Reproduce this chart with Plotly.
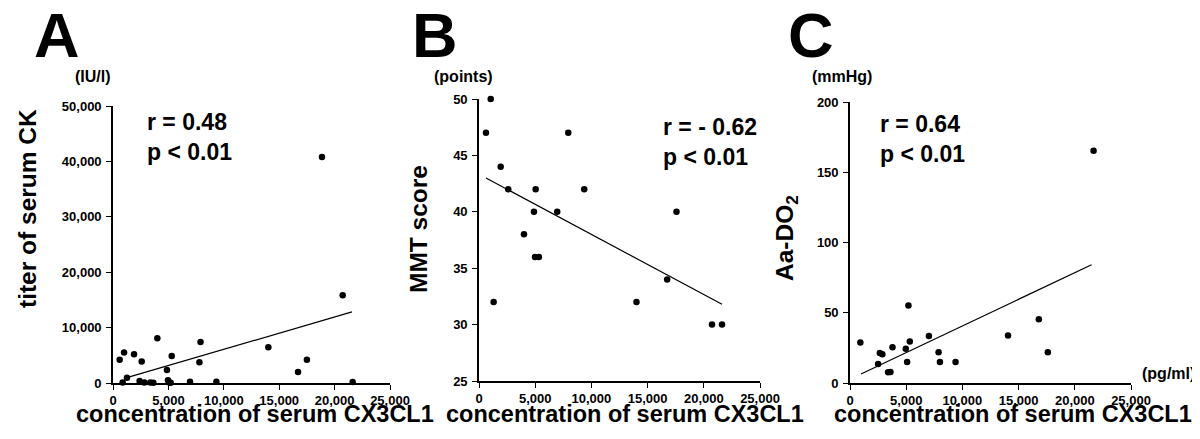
import plotly.graph_objects as go
from plotly.subplots import make_subplots

# --- data ---
# A : serum CK vs serum CX3CL1
ck_x = [600, 1000, 870, 1260, 1900, 2400, 2590, 2830, 3370, 3640, 4000, 4870, 4960,
        5080, 5200, 5300, 6950, 7800, 7900, 9330, 14020, 16700, 17500, 18860, 20730, 21630]
ck_y = [4200, 5500, 100, 960, 5200, 360, 3900, 100, 100, 50, 8070, 2350, 480,
        100, 50, 4880, 240, 3730, 7400, 240, 6450, 1990, 4200, 40780, 15840, 180]
ck_fit_x = [1020, 21570]
ck_fit_y = [840, 12830]

# B : MMT score vs serum CX3CL1
mmt_x = [620, 1040, 1300, 1930, 2600, 4000, 4890, 5040, 4980, 5330, 6960, 7940,
         9360, 14010, 16740, 17570, 20730, 21620]
mmt_y = [47, 50, 32, 44, 42, 38, 40, 42, 36, 36, 40, 47, 42, 32, 34, 40, 30, 30]
mmt_fit_x = [620, 21620]
mmt_fit_y = [43.0, 31.8]

# C : Aa-DO2 vs serum CX3CL1
aa_x = [920, 2500, 2650, 2880, 3390, 3600, 3780, 4960, 5080, 5200, 5320, 7020,
        7880, 8000, 9390, 14060, 16800, 17600, 21670]
aa_y = [28.8, 13.6, 21.4, 20.5, 7.6, 7.8, 25.4, 24.3, 15, 55.2, 29.5, 33.5,
        21.9, 15, 15, 33.8, 45.4, 21.9, 165.3]
aa_fit_x = [980, 21490]
aa_fit_y = [6.4, 84.2]

panels = [
    (ck_x, ck_y, ck_fit_x, ck_fit_y),
    (mmt_x, mmt_y, mmt_fit_x, mmt_fit_y),
    (aa_x, aa_y, aa_fit_x, aa_fit_y),
]

W, H = 1200, 439
FONT = "Liberation Sans, Arial, Helvetica, sans-serif"


def px(x):
    return x / W


def py(y):
    return 1 - y / H


fig = make_subplots(rows=1, cols=3)

for i, (x, y, fx, fy) in enumerate(panels, start=1):
    fig.add_trace(go.Scatter(x=x, y=y, mode="markers", cliponaxis=False, name="data",
                             marker=dict(color="black", size=6.5)), row=1, col=i)
    fig.add_trace(go.Scatter(x=fx, y=fy, mode="lines", name="fit",
                             line=dict(color="black", width=1.2)), row=1, col=i)

# plot-area positions (pixels)
x_dom = [(105, 382), (471, 752), (842, 1123)]
y_dom = [(375, 98), (373, 91), (375, 94)]
y_rng = [(0, 50000), (25, 50), (0, 200)]
y_dtk = [10000, 5, 50]
y_fmt = [",d", "d", "d"]

tick_font = dict(family=FONT, size=13, color="black", weight="bold")
axis_common = dict(showline=True, linecolor="black", linewidth=1.6, ticks="outside",
                   ticklen=5, tickwidth=1.4, tickcolor="black", showgrid=False,
                   zeroline=False, tickfont=tick_font, automargin=False)

for i in range(3):
    fig.update_xaxes(domain=[px(x_dom[i][0]), px(x_dom[i][1])], range=[0, 25000],
                     tick0=0, dtick=5000, tickformat=",d", **axis_common, row=1, col=i + 1)
    fig.update_yaxes(domain=[py(y_dom[i][0]), py(y_dom[i][1])], range=list(y_rng[i]),
                     tick0=y_rng[i][0], dtick=y_dtk[i], tickformat=y_fmt[i],
                     ticklabelstandoff=2, **axis_common, row=1, col=i + 1)


def note(text, x, y, size, xanchor="center", yanchor="middle", angle=0, align="center"):
    fig.add_annotation(text=text, x=px(x), y=py(y), xref="paper", yref="paper",
                       xanchor=xanchor, yanchor=yanchor, showarrow=False, textangle=angle,
                       align=align,
                       font=dict(family=FONT, size=size, color="black", weight="bold"))


# panel letters
note("A", 49, 27, 63)
note("B", 427, 27, 63)
note("C", 803, 27, 63)

# units
note("(IU/l)", 85, 68, 16)
note("(points)", 455, 68, 16)
note("(mmHg)", 834, 68, 16)
note("(pg/ml)", 1132, 365, 16, xanchor="left")

# axis titles
for cx in (247, 617, 1005):
    note("concentration of serum CX3CL1", cx, 406, 23.5)
note("titer of serum CK", 19, 201, 24.5, angle=-90)
note("MMT score", 410, 221, 24.5, angle=-90)
note("Aa-DO<sub>2</sub>", 778, 230, 24.5, angle=-90)

# statistics
note("r = 0.48<br>p < 0.01", 137, 99, 23, xanchor="left", yanchor="top", align="left")
note("r = - 0.62<br>p < 0.01", 653, 104, 23, xanchor="left", yanchor="top", align="left")
note("r = 0.64<br>p < 0.01", 870, 101, 23, xanchor="left", yanchor="top", align="left")

fig.update_layout(width=W, height=H, margin=dict(l=0, r=0, t=0, b=0),
                  paper_bgcolor="white", plot_bgcolor="white", showlegend=False)

fig.write_html("out.html")
